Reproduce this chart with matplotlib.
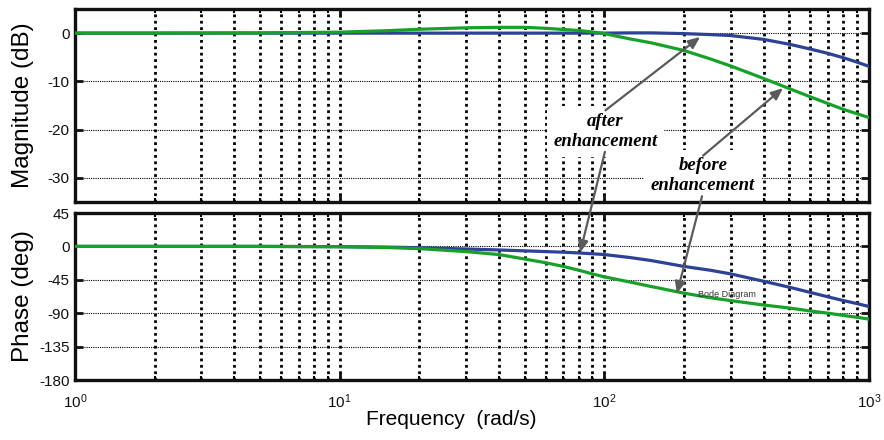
import matplotlib
matplotlib.use('Agg')
import matplotlib.pyplot as plt
from matplotlib.ticker import LogLocator, NullFormatter, FixedLocator

plt.rcParams['font.family'] = ['Liberation Sans', 'DejaVu Sans']
plt.rcParams['mathtext.fontset'] = 'custom'
plt.rcParams['mathtext.rm'] = 'Liberation Sans'
plt.rcParams['mathtext.it'] = 'Liberation Sans:italic'
plt.rcParams['axes.unicode_minus'] = False

# ---- data ----
freq = [1, 2, 5, 10, 15, 20, 30, 40, 50, 60, 70, 80, 90, 100, 125, 150,
        200, 250, 300, 400, 500, 600, 700, 800, 900, 1000]
mag_before = [0, 0, 0.05, 0.2, 0.5, 0.8, 1.1, 1.2, 1.2, 1.0, 0.75, 0.55, 0.25,
              -0.1, -1.2, -2.0, -3.6, -5.3, -6.8, -9.4, -11.5, -13.2, -14.6,
              -15.8, -16.7, -17.5]
mag_after = [0, 0, 0, 0, 0, 0, 0, 0, 0, 0, 0, 0, 0, 0, 0.05, 0.05, -0.1, -0.3,
             -0.5, -1.3, -2.3, -3.3, -4.2, -5.1, -6.0, -6.9]
phase_before = [0, 0, 0, -0.5, -1.5, -3, -7, -11, -17, -22, -27, -32, -37, -41,
                -48, -54, -63, -69, -73, -79, -83, -87, -90, -93, -95.5, -98]
phase_after = [0, 0, 0, -0.3, -1, -1.8, -3.5, -4.8, -6, -7, -7.8, -8.8, -9.9,
               -11, -15, -19, -27, -32, -37, -47, -55, -62, -68, -73, -77, -81]
mag_ticks = [0, -10, -20, -30]
phase_ticks = [45, 0, -45, -90, -135, -180]

blue = '#2d4196'
green = '#17a02a'
arrow_col = '#5a5a5a'

W, H = 884, 440
fig = plt.figure(figsize=(W / 100, H / 100), dpi=100)
L, R = 75, 869
ax1 = fig.add_axes([L / W, 1 - 202 / H, (R - L) / W, (202 - 9) / H])
ax2 = fig.add_axes([L / W, 1 - 380 / H, (R - L) / W, (380 - 213) / H])


def style(ax):
    ax.set_xscale('log')
    ax.set_xlim(1, 1000)
    for s in ax.spines.values():
        s.set_linewidth(2.4)
        s.set_color('#111111')
    ax.grid(True, which='both', axis='x', color='black', linestyle=(0, (1, 1.3)),
            linewidth=2.0)
    ax.grid(True, which='major', axis='y', color='black', linestyle=(0, (1, 1)),
            linewidth=0.8)
    ax.xaxis.set_minor_locator(LogLocator(base=10, subs=range(2, 10)))
    ax.xaxis.set_minor_formatter(NullFormatter())
    ax.tick_params(axis='both', which='major', direction='in', length=6, width=2,
                   right=True, top=True, labelsize=11, pad=4, colors='#111111')
    ax.tick_params(axis='x', which='minor', direction='in', length=3, width=1.5,
                   top=True)
    ax.tick_params(axis='x', which='major', pad=9)
    ax.set_axisbelow(True)


style(ax1)
style(ax2)

ax1.plot(freq, mag_after, color=blue, lw=2.3, zorder=3)
ax1.plot(freq, mag_before, color=green, lw=2.3, zorder=3)
ax1.set_ylim(-35, 5)
ax1.yaxis.set_major_locator(FixedLocator(mag_ticks))
ax1.tick_params(axis='x', which='both', labelbottom=False)
ax1.set_ylabel('Magnitude (dB)', fontsize=17.5)

ax2.plot(freq, phase_after, color=blue, lw=2.3, zorder=3)
ax2.plot(freq, phase_before, color=green, lw=2.3, zorder=3)
ax2.set_ylim(-180, 45)
ax2.yaxis.set_major_locator(FixedLocator(phase_ticks))
ax2.set_ylabel('Phase (deg)', fontsize=17.5)

lab_x = -(L - 34) / (R - L)
ax1.yaxis.set_label_coords(lab_x, 0.5)
ax2.yaxis.set_label_coords(lab_x, 0.5)

fig.text(451 / W, 1 - 419 / H, 'Frequency  (rad/s)', fontsize=15, ha='center',
         va='center')

tfont = dict(family=['Liberation Serif', 'DejaVu Serif'], weight='bold',
             style='italic', size=13.5)
box = dict(boxstyle='square,pad=0.35', fc='white', ec='none')

ax1.text(101, -20.4, 'after\nenhancement', ha='center', va='center',
         linespacing=1.25, bbox=box, zorder=2.2, **tfont)
ax1.text(236, -29.5, 'before\nenhancement', ha='center', va='center',
         linespacing=1.25, bbox=box, zorder=2.2, **tfont)

aprops = dict(arrowstyle='-|>,head_length=0.7,head_width=0.3', color=arrow_col,
              lw=1.6, shrinkA=0, shrinkB=0)
# after -> magnitude
ax1.annotate('', xy=(230, -0.8), xytext=(101, -16.0), arrowprops=aprops,
             zorder=6)
# before -> magnitude
ax1.annotate('', xy=(473, -11.4), xytext=(236, -25.4), arrowprops=aprops,
             zorder=6)
# after -> phase
ax2.annotate('', xy=(81, -8.3), xytext=(100.5, -24.6), textcoords=ax1.transData,
             arrowprops=aprops, zorder=6)
# before -> phase
ax2.annotate('', xy=(188, -63.5), xytext=(234, -33.8), textcoords=ax1.transData,
             arrowprops=aprops, zorder=6)

ax2.text(290, -65, 'Bode Diagram', fontsize=6.5, color='#333333', ha='center',
         va='center', zorder=4)

fig.savefig('out.png', dpi=100, facecolor='white')
